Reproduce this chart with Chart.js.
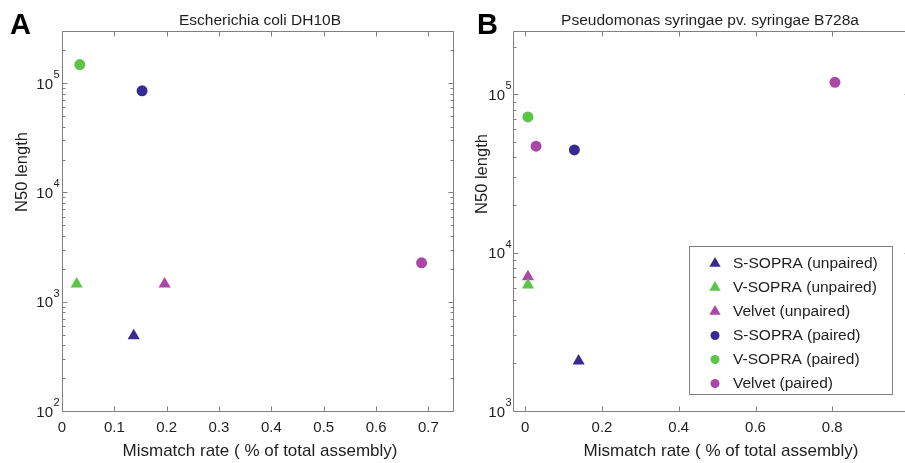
<!DOCTYPE html>
<html><head><meta charset="utf-8">
<script src="https://cdn.jsdelivr.net/npm/chart.js@4/dist/chart.umd.min.js"></script>
<style>
html,body{margin:0;padding:0;background:#fff;overflow:hidden;width:905px;height:463px;position:relative;}
canvas{position:absolute;top:0;}
#cA{left:0}
#cB{left:460px}
</style></head><body>
<canvas id="cA" width="460" height="463"></canvas>
<canvas id="cB" width="460" height="463"></canvas>
<script>
// ---- series definitions ----
const seriesNames  = ['S-SOPRA (unpaired)','V-SOPRA (unpaired)','Velvet (unpaired)','S-SOPRA (paired)','V-SOPRA (paired)','Velvet (paired)'];
const seriesColors = ['#382a95','#5cc447','#ab47a7','#382a95','#5cc447','#ab47a7'];
const seriesShapes = ['triangle','triangle','triangle','circle','circle','circle'];

// ---- panel A: Escherichia coli DH10B ----
const ecoliTitle    = 'Escherichia coli DH10B';
const ecoliMismatch = [[0.137],[0.028],[0.196],[0.153],[0.034],[0.687]];
const ecoliN50      = [[487],[1450],[1450],[85000],[148000],[2270]];
const ecoliXTicks   = [0,0.1,0.2,0.3,0.4,0.5,0.6,0.7];
const ecoliYTicks   = [1e2,1e3,1e4,1e5];

// ---- panel B: Pseudomonas syringae pv. syringae B728a ----
const psyrTitle    = 'Pseudomonas syringae pv. syringae B728a';
const psyrMismatch = [[0.139],[0.007],[0.007],[0.128],[0.007],[0.028,0.807]];
const psyrN50      = [[2070],[6250],[7050],[44500],[72000],[47000,119000]];
const psyrXTicks   = [0,0.2,0.4,0.6,0.8,1];
const psyrYTicks   = [1e3,1e4,1e5];

const xAxisTitle = 'Mismatch rate ( % of total assembly)';
const yAxisTitle = 'N50 length';

const AXIS_COLOR = '#808080';
const TEXT_COLOR = '#1e1e1e';
const FONT = '"Liberation Sans", Arial, Helvetica, sans-serif';

function buildDatasets(xs, ys){
  return seriesNames.map((name,i)=>({
    label: name,
    data: xs[i].map((x,j)=>({x:x, y:ys[i][j]})),
    pointStyle: seriesShapes[i],
    pointRadius: seriesShapes[i]==='circle' ? 5.5 : 7,
    pointHoverRadius: seriesShapes[i]==='circle' ? 5.5 : 7,
    backgroundColor: seriesColors[i],
    borderColor: seriesColors[i],
    borderWidth: 0,
    showLine: false
  }));
}

function decorPlugin(cfg){
  return {
    id: 'decor'+cfg.letter,
    afterDraw(chart){
      const ctx = chart.ctx, ca = chart.chartArea;
      const xs = chart.scales.x, ys = chart.scales.y;
      const off = cfg.offsetX;
      ctx.save();
      ctx.strokeStyle = AXIS_COLOR; ctx.lineWidth = 1;
      const L = Math.round(ca.left)+0.5, R = Math.round(ca.right)+0.5, T = Math.round(ca.top)+0.5, B = Math.round(ca.bottom)+0.5;
      ctx.beginPath();
      ctx.moveTo(L,T); ctx.lineTo(R,T); ctx.lineTo(R,B); ctx.lineTo(L,B); ctx.closePath();
      // x ticks (bottom and top, inward)
      cfg.xTicks.forEach(v=>{
        const p = Math.round(xs.getPixelForValue(v))+0.5;
        ctx.moveTo(p,B); ctx.lineTo(p,B-5);
        ctx.moveTo(p,T); ctx.lineTo(p,T+5);
      });
      // y ticks major + minor (left and right, inward)
      const lo = Math.floor(Math.log10(ys.min)), hi = Math.ceil(Math.log10(ys.max));
      for(let d=lo; d<=hi; d++){
        for(let m=1; m<=9; m++){
          const v = m*Math.pow(10,d);
          if(v < ys.min*0.999 || v > ys.max*1.001) continue;
          const p = Math.round(ys.getPixelForValue(v))+0.5;
          const len = m===1 ? 5 : 3;
          ctx.moveTo(L,p); ctx.lineTo(L+len,p);
          ctx.moveTo(R,p); ctx.lineTo(R-len,p);
        }
      }
      ctx.stroke();

      ctx.fillStyle = TEXT_COLOR;
      // x tick labels
      ctx.font = '15px '+FONT; ctx.textAlign='center'; ctx.textBaseline='middle';
      cfg.xTicks.forEach(v=>{
        ctx.fillText(String(v), xs.getPixelForValue(v), 427.5);
      });
      // y tick labels 10^n
      cfg.yTicks.forEach(v=>{
        const p = ys.getPixelForValue(v);
        const e = Math.round(Math.log10(v));
        const xr = ca.left - cfg.yLabelGap;
        ctx.font = '15px '+FONT; ctx.textAlign='right'; ctx.textBaseline='middle';
        ctx.fillText('10', xr, p+1.5);
        ctx.font = '11px '+FONT; ctx.textAlign='left';
        ctx.fillText(String(e), xr+0.5, p-8);
      });
      // axis titles
      ctx.font = '17px '+FONT; ctx.textAlign='center'; ctx.textBaseline='alphabetic';
      ctx.fillText(xAxisTitle, cfg.xTitleX-off, 456);
      ctx.save();
      ctx.translate(cfg.yTitleX-off, cfg.yTitleY);
      ctx.rotate(-Math.PI/2);
      ctx.font = '16.5px '+FONT;
      ctx.fillText(yAxisTitle, 0, 0);
      ctx.restore();
      // chart title
      ctx.font = '15.5px '+FONT; ctx.textAlign='center'; ctx.textBaseline='alphabetic';
      ctx.fillText(cfg.title, cfg.titleX-off, 25);
      // panel letter
      ctx.font = 'bold 29px '+FONT; ctx.textAlign='left';
      ctx.fillStyle = '#000';
      ctx.fillText(cfg.letter, cfg.letterX-off, 33.5);
      // legend
      if(cfg.legend){
        const bx = 689-off, by = 246, bw = 203, bh = 148;
        ctx.fillStyle = '#fff';
        ctx.fillRect(bx, by, bw, bh);
        ctx.strokeStyle = AXIS_COLOR; ctx.lineWidth = 1;
        ctx.strokeRect(bx+0.5, by+0.5, bw, bh);
        chart.data.datasets.forEach((ds,i)=>{
          const cy = 263.5 + 24*i;
          ctx.fillStyle = ds.backgroundColor; ctx.strokeStyle = ds.backgroundColor;
          Chart.helpers.drawPoint(ctx, {pointStyle: ds.pointStyle, radius: ds.pointStyle==='circle'?4.5:6.5, rotation:0, borderWidth:0}, 715-off, cy);
          ctx.fillStyle = TEXT_COLOR;
          ctx.font = '15.5px '+FONT; ctx.textAlign='left'; ctx.textBaseline='middle';
          ctx.fillText(ds.label, 733-off, cy+0.5);
        });
      }
      ctx.restore();
    }
  };
}

function makeChart(id, cfg){
  return new Chart(document.getElementById(id), {
    type: 'scatter',
    data: { datasets: buildDatasets(cfg.xs, cfg.ys) },
    options: {
      responsive: false, animation: false, devicePixelRatio: 1,
      layout: { padding: { left: 0, top: 31, right: cfg.padRight, bottom: 0 } },
      plugins: { legend: { display: false }, tooltip: { enabled: false }, title: { display: false } },
      scales: {
        x: {
          type: 'linear', min: cfg.xMin, max: cfg.xMax,
          afterBuildTicks: s => { s.ticks = cfg.xTicks.map(v=>({value:v})); },
          afterFit: s => { s.height = 52; },
          ticks: { display: false }, grid: { display: false }, border: { display: false }
        },
        y: {
          type: 'logarithmic', min: cfg.yMin, max: cfg.yMax,
          afterBuildTicks: s => { s.ticks = cfg.yTicks.map(v=>({value:v})); },
          afterFit: s => { s.width = cfg.yWidth; },
          ticks: { display: false }, grid: { display: false }, border: { display: false }
        }
      }
    },
    plugins: [decorPlugin(cfg)]
  });
}

makeChart('cA', {
  letter:'A', offsetX:0, title: ecoliTitle, titleX:260, letterX:10,
  xs: ecoliMismatch, ys: ecoliN50, xTicks: ecoliXTicks, yTicks: ecoliYTicks,
  xMin:0, xMax:0.747, yMin:1e2, yMax:3e5, yWidth:62, padRight:4, yLabelGap:9,
  xTitleX:260, yTitleX:27, yTitleY:172, legend:false
});
makeChart('cB', {
  letter:'B', offsetX:460, title: psyrTitle, titleX:710, letterX:477,
  xs: psyrMismatch, ys: psyrN50, xTicks: psyrXTicks, yTicks: psyrYTicks,
  xMin:-0.032, xMax:1.0, yMin:1e3, yMax:2.51e5, yWidth:53, padRight:11, yLabelGap:8,
  xTitleX:721, yTitleX:487, yTitleY:174, legend:true
});
</script>
</body></html>
